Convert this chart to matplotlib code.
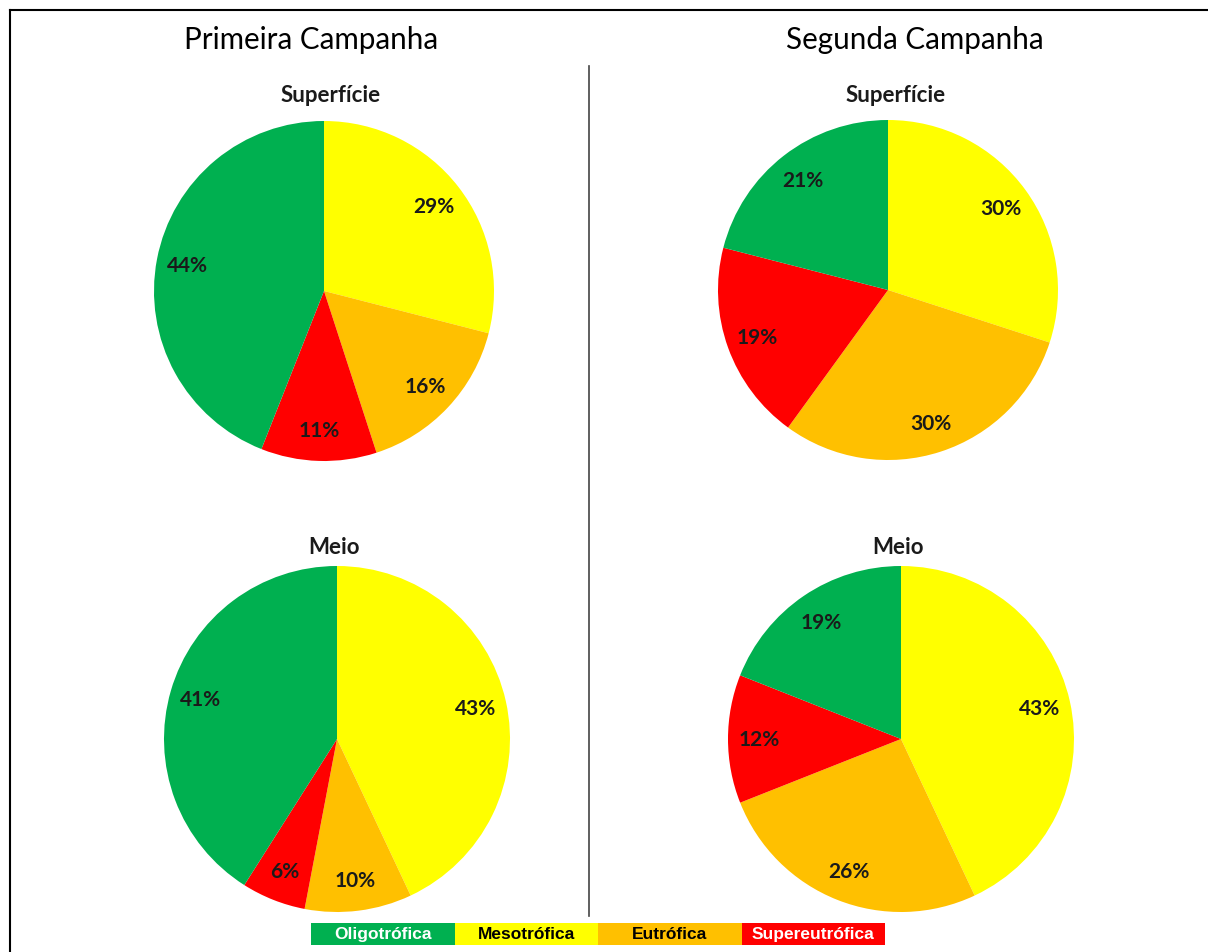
import matplotlib
matplotlib.use('Agg')
import matplotlib.pyplot as plt
from matplotlib.patches import Rectangle
from matplotlib.lines import Line2D

W, H = 1208, 953

# categorias de estado trofico
categorias = ['Oligotrófica', 'Mesotrófica', 'Eutrófica', 'Supereutrófica']
cores = ['#00B050', '#FFFF00', '#FFC000', '#FF0000']
cor_texto_legenda = ['white', 'black', 'black', 'white']

# percentuais por campanha e profundidade (mesma ordem de categorias)
sup_primeira = [44, 29, 16, 11]
meio_primeira = [41, 43, 10, 6]
sup_segunda = [21, 30, 30, 19]
meio_segunda = [19, 43, 26, 12]

campanhas = ['Primeira Campanha', 'Segunda Campanha']
profundidades = ['Superfície', 'Meio']

FONTE = ['Lato', 'DejaVu Sans']

fig = plt.figure(figsize=(W / 100, H / 100), dpi=100)


def px(x, y):
    # converte pixel (origem no topo) para coordenadas da figura
    return x / W, 1 - y / H


def desenha_pizza(valores, cx, cy, r, titulo, tx, ty):
    x0, y0 = px(cx - r, cy + r)
    ax = fig.add_axes([x0, y0, 2 * r / W, 2 * r / H])
    # ordem horaria a partir do topo: meso, eutro, super, oligo
    ordem = [1, 2, 3, 0]
    vals = [valores[i] for i in ordem]
    cs = [cores[i] for i in ordem]
    wedges, texts, autotexts = ax.pie(vals, colors=cs, startangle=90, counterclock=False,
                                      autopct=lambda p: '%.0f%%' % p, pctdistance=0.82,
                                      radius=1.0, wedgeprops=dict(linewidth=0))
    for t in autotexts:
        t.set_fontsize(15)
        t.set_fontweight('bold')
        t.set_family(FONTE)
        t.set_color('#1a1a1a')
    ax.set_xlim(-1, 1)
    ax.set_ylim(-1, 1)
    ax.set_aspect('auto')
    ax.axis('off')
    fx, fy = px(tx, ty)
    fig.text(fx, fy, titulo, ha='center', va='center', fontsize=16,
             fontweight='bold', family=FONTE, color='#1a1a1a')


desenha_pizza(sup_primeira, 324, 292, 170, profundidades[0], 331, 95)
desenha_pizza(meio_primeira, 337, 740, 173, profundidades[1], 334, 548)
desenha_pizza(sup_segunda, 888, 291, 170, profundidades[0], 896, 95)
desenha_pizza(meio_segunda, 901, 740, 173, profundidades[1], 898, 548)

# titulos das campanhas
for nome, x in zip(campanhas, [311, 915]):
    fx, fy = px(x, 40)
    fig.text(fx, fy, nome, ha='center', va='center', fontsize=21.3, family=FONTE, color='black')

# moldura e divisoria
fig.add_artist(Line2D([10 / W, 1], [1 - 11 / H, 1 - 11 / H], color='black', lw=1.5))
fig.add_artist(Line2D([10 / W, 10 / W], [0, 1 - 11 / H], color='black', lw=1.5))
fig.add_artist(Line2D([589 / W, 589 / W], [1 - 917 / H, 1 - 67 / H], color='#444444', lw=1.2))

# legenda em caixas coloridas
larg = 143.5
for i, (cat, c, tc) in enumerate(zip(categorias, cores, cor_texto_legenda)):
    x = 311 + i * larg
    x0, y0 = px(x, 946)
    fig.add_artist(Rectangle((x0, y0), larg / W, 22 / H, transform=fig.transFigure,
                             facecolor=c, edgecolor='none'))
    tx, ty = px(x + larg / 2, 935)
    fig.text(tx, ty, cat, ha='center', va='center', fontsize=12.5, fontweight='bold',
             family=['Liberation Sans', 'DejaVu Sans'], color=tc)

fig.savefig('out.png', dpi=100, facecolor='white')
